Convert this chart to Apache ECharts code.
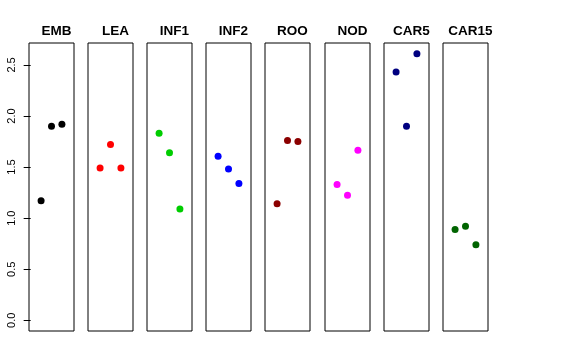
<!DOCTYPE html>
<html>
<head>
<meta charset="utf-8">
<script src="https://cdn.jsdelivr.net/npm/echarts@6/dist/echarts.min.js"></script>
<style>html,body{margin:0;padding:0;background:#fff}#c{width:576px;height:360px}</style>
</head>
<body>
<div id="c"></div>
<script>
// Panel names and colours
var panels = ["EMB", "LEA", "INF1", "INF2", "ROO", "NOD", "CAR5", "CAR15"];
var colors = ["#000000", "#FF0000", "#00CD00", "#0000FF", "#8B0000", "#FF00FF", "#000080", "#006400"];
// x positions within each panel
var xPos = [1, 2, 3];
// values per panel
var EMB   = [1.17, 1.90, 1.92];
var LEA   = [1.49, 1.72, 1.49];
var INF1  = [1.83, 1.64, 1.09];
var INF2  = [1.605, 1.48, 1.34];
var ROO   = [1.14, 1.76, 1.75];
var NOD   = [1.33, 1.225, 1.665];
var CAR5  = [2.43, 1.90, 2.61];
var CAR15 = [0.89, 0.92, 0.74];
var yTicks = [0, 0.5, 1.0, 1.5, 2.0, 2.5];

var values = [EMB, LEA, INF1, INF2, ROO, NOD, CAR5, CAR15];
var ymin = -0.1044, ymax = 2.7144;

var grids = [], xAxes = [], yAxes = [], series = [], titles = [];
for (var i = 0; i < panels.length; i++) {
  var left = Math.round(28.7 + i * 59.19);
  var w = 45;
  grids.push({left: left, top: 43, width: w, height: 288, show: true,
    borderColor: '#000', borderWidth: 1, backgroundColor: 'transparent'});
  xAxes.push({type: 'value', gridIndex: i, min: -0.16, max: 4.16, show: false});
  var ya = {type: 'value', gridIndex: i, min: ymin, max: ymax, splitLine: {show: false}};
  if (i === 0) {
    ya.axisLine = {show: false};
    ya.axisTick = {show: true, length: 7, lineStyle: {color: '#000'}, customValues: yTicks};
    ya.axisLabel = {show: true, rotate: 90, margin: 12, color: '#000', fontSize: 11,
      fontFamily: 'Liberation Sans, Arial, sans-serif', customValues: yTicks,
      formatter: function (v) { return v.toFixed(1); }};
  } else {
    ya.show = false;
  }
  yAxes.push(ya);
  series.push({type: 'scatter', xAxisIndex: i, yAxisIndex: i, symbolSize: 7,
    itemStyle: {color: colors[i], opacity: 1},
    data: values[i].map(function (v, k) { return [xPos[k], v]; })});
  titles.push({text: panels[i], left: left + w / 2, textAlign: 'center', top: 19,
    textStyle: {fontSize: 13.5, fontWeight: 'bold', color: '#000', fontFamily: 'Liberation Sans, Arial, sans-serif'}});
}

var chart = echarts.init(document.getElementById('c'), null, {renderer: 'canvas'});
chart.setOption({
  animation: false,
  backgroundColor: '#fff',
  title: titles,
  grid: grids,
  xAxis: xAxes,
  yAxis: yAxes,
  series: series
});
</script>
</body>
</html>
